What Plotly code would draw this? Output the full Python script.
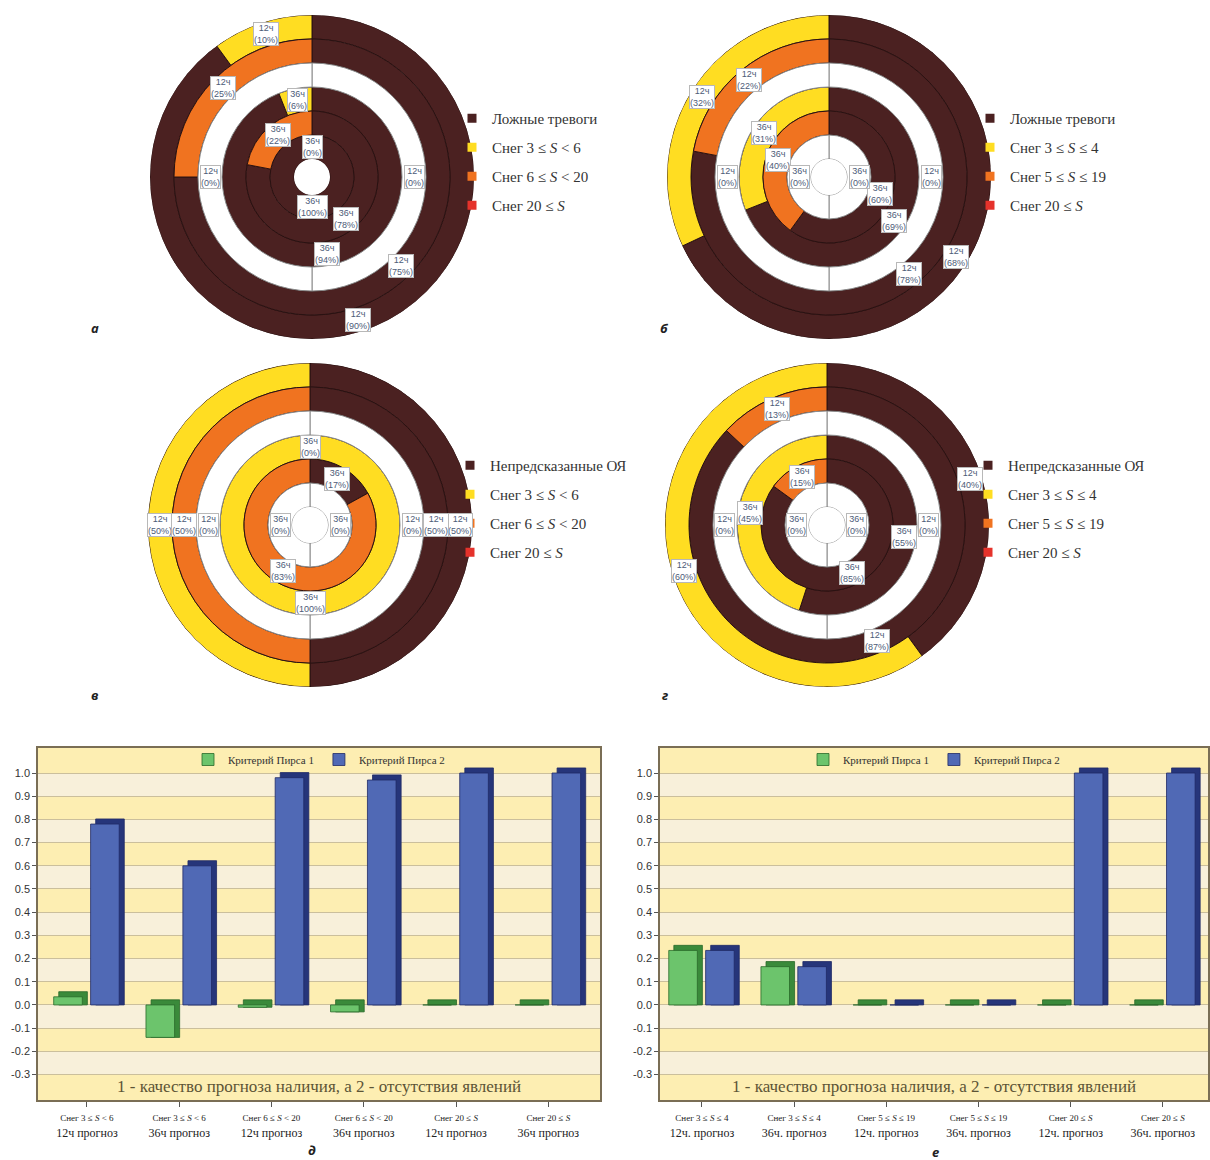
import math
import plotly.graph_objects as go

W, H = 1210, 1160

# ---------------- data ----------------
ring_hours = ["12ч", "12ч", "12ч", "36ч", "36ч", "36ч"]
ring_kinds = ["yellow", "orange", "red", "yellow", "orange", "red"]

# share (%) of the snow category in each ring, outer ring first; None = no data
share_a = [10, 25, None, 6, 22, 0]
share_b = [32, 22, None, 31, 40, None]
share_v = [50, 50, None, 100, 83, None]
share_g = [60, 13, None, 45, 15, None]

legend_a = ["Ложные тревоги", "Снег 3 ≤ <i>S</i> &lt; 6", "Снег 6 ≤ <i>S</i> &lt; 20", "Снег 20 ≤ <i>S</i>"]
legend_b = ["Ложные тревоги", "Снег 3 ≤ <i>S</i> ≤ 4", "Снег 5 ≤ <i>S</i> ≤ 19", "Снег 20 ≤ <i>S</i>"]
legend_v = ["Непредсказанные ОЯ", "Снег 3 ≤ <i>S</i> &lt; 6", "Снег 6 ≤ <i>S</i> &lt; 20", "Снег 20 ≤ <i>S</i>"]
legend_g = ["Непредсказанные ОЯ", "Снег 3 ≤ <i>S</i> ≤ 4", "Снег 5 ≤ <i>S</i> ≤ 19", "Снег 20 ≤ <i>S</i>"]

cats_d_top = ["Снег 3 ≤ <i>S</i> &lt; 6", "Снег 3 ≤ <i>S</i> &lt; 6", "Снег 6 ≤ <i>S</i> &lt; 20",
              "Снег 6 ≤ <i>S</i> &lt; 20", "Снег 20 ≤ <i>S</i>", "Снег 20 ≤ <i>S</i>"]
cats_d_bottom = ["12ч прогноз", "36ч прогноз", "12ч прогноз", "36ч прогноз", "12ч прогноз", "36ч прогноз"]
cats_e_top = ["Снег 3 ≤ <i>S</i> ≤ 4", "Снег 3 ≤ <i>S</i> ≤ 4", "Снег 5 ≤ <i>S</i> ≤ 19",
              "Снег 5 ≤ <i>S</i> ≤ 19", "Снег 20 ≤ <i>S</i>", "Снег 20 ≤ <i>S</i>"]
cats_e_bottom = ["12ч. прогноз", "36ч. прогноз", "12ч. прогноз", "36ч. прогноз", "12ч. прогноз", "36ч. прогноз"]

pierce1_d = [0.035, -0.14, -0.01, -0.03, 0.0, 0.0]
pierce2_d = [0.78, 0.60, 0.98, 0.97, 1.0, 1.0]
pierce1_e = [0.235, 0.165, 0.0, 0.0, 0.0, 0.0]
pierce2_e = [0.235, 0.165, 0.0, 0.0, 1.0, 1.0]

series_names = ["Критерий Пирса 1", "Критерий Пирса 2"]
y_ticks = [1.0, 0.9, 0.8, 0.7, 0.6, 0.5, 0.4, 0.3, 0.2, 0.1, 0.0, -0.1, -0.2, -0.3]
note_text = "1 - качество прогноза наличия, а 2 - отсутствия явлений"

# ---------------- style ----------------
COL = {"dark": "#4b2121", "yellow": "#ffdd22", "orange": "#f07320", "red": "#e5322b", "white": "#ffffff"}
SERIF = "Liberation Serif"
SANS = "Liberation Sans"

fig = go.Figure()
layout = dict(width=W, height=H, margin=dict(l=0, r=0, t=0, b=0), autosize=False,
              paper_bgcolor="white", plot_bgcolor="white", barmode="overlay", showlegend=True)
annotations = []
shapes = []

R = 162.0
HOLE = 18.0
RW = (R - HOLE) / 6.0


def dom_x(a, b):
    return [a / W, b / W]


def dom_y(a, b):
    return [1 - b / H, 1 - a / H]


pies = [
    dict(share=share_a, legend=legend_a, cx=312, cy=177, letter="а", lxy=(95, 328), leg=(452, 102)),
    dict(share=share_b, legend=legend_b, cx=829, cy=177, letter="б", lxy=(665, 328), leg=(970, 102)),
    dict(share=share_v, legend=legend_v, cx=310, cy=525, letter="в", lxy=(95, 695), leg=(450, 449)),
    dict(share=share_g, legend=legend_g, cx=827, cy=525, letter="г", lxy=(665, 695), leg=(968, 449)),
]

for i, p in enumerate(pies):
    sub = "polar" if i == 0 else f"polar{i + 1}"
    ax = i + 3
    cx, cy = p["cx"], p["cy"]
    layout[sub] = dict(
        domain=dict(x=dom_x(cx - R, cx + R), y=dom_y(cy - R, cy + R)),
        hole=HOLE / R, bgcolor="white", barmode="overlay",
        radialaxis=dict(visible=False, range=[0, 6], showgrid=False),
        angularaxis=dict(visible=False, direction="clockwise", rotation=90, showgrid=False),
    )
    layout[f"xaxis{ax}"] = dict(domain=dom_x(cx - R, cx + R), range=[-R, R], visible=False,
                                fixedrange=True, anchor=f"y{ax}")
    layout[f"yaxis{ax}"] = dict(domain=dom_y(cy - R, cy + R), range=[-R, R], visible=False,
                                fixedrange=True, anchor=f"x{ax}")

    segs = {c: dict(theta=[], width=[], base=[]) for c in COL}
    labels = []
    for k, (val, kind, hr) in enumerate(zip(p["share"], ring_kinds, ring_hours)):
        b = 5 - k
        if val is None:
            for th in (90, 270):
                segs["white"]["theta"].append(th)
                segs["white"]["width"].append(180)
                segs["white"]["base"].append(b)
                labels.append((k, th, f"{hr}<br>(0%)"))
        else:
            dark = 100 - val
            a_dark = dark * 3.6
            if dark > 0:
                segs["dark"]["theta"].append(a_dark / 2)
                segs["dark"]["width"].append(a_dark)
                segs["dark"]["base"].append(b)
            if val > 0:
                segs[kind]["theta"].append((a_dark + 360) / 2)
                segs[kind]["width"].append(val * 3.6)
                segs[kind]["base"].append(b)
            labels.append((k, a_dark / 2, f"{hr}<br>({dark}%)"))
            labels.append((k, (a_dark + 360) / 2, f"{hr}<br>({val}%)"))

    for c, s in segs.items():
        if not s["theta"]:
            continue
        fig.add_trace(go.Barpolar(
            r=[1] * len(s["theta"]), base=s["base"], theta=s["theta"], width=s["width"],
            marker=dict(color=COL[c], line=dict(color="#8a8a8a" if c == "white" else "#2a1212",
                                                width=1)),
            subplot=sub, showlegend=False, hoverinfo="skip"))

    for k, th, txt in labels:
        rp = R - (k + 0.5) * RW
        annotations.append(dict(
            xref=f"x{ax}", yref=f"y{ax}", x=rp * math.sin(math.radians(th)),
            y=rp * math.cos(math.radians(th)), text=txt, showarrow=False,
            bgcolor="white", bordercolor="#b8b8b8", borderwidth=1, borderpad=0,
            font=dict(family=SANS, size=9, color="#4d5b78")))

    leg_key = "legend" if i == 0 else f"legend{i + 1}"
    for j, (name, c) in enumerate(zip(p["legend"], ["dark", "yellow", "orange", "red"])):
        fig.add_trace(go.Scatter(
            x=[None], y=[None], xaxis=f"x{ax}", yaxis=f"y{ax}", mode="markers",
            marker=dict(symbol="square", size=9, color=COL[c], line=dict(width=0)),
            name=name, legend=leg_key, legendgroup=f"p{i}_{j}", hoverinfo="skip"))
    layout[leg_key] = dict(x=p["leg"][0] / W, y=1 - p["leg"][1] / H, xanchor="left", yanchor="top",
                           bgcolor="rgba(0,0,0,0)", tracegroupgap=6.5,
                           font=dict(family=SERIF, size=15, color="#333333"))
    annotations.append(dict(xref="paper", yref="paper", x=p["lxy"][0] / W, y=1 - p["lxy"][1] / H,
                            xanchor="center", yanchor="middle",
                            text=f"<b><i>{p['letter']}</i></b>", showarrow=False,
                            font=dict(family="Open Sans", size=13, color="#222222")))

# ---------------- bar charts ----------------
YR = [-0.41, 1.108]
OFF = [-0.36, 0.04]
BW = 0.31
DX = 0.055
DY = 0.022
FACE = ["#6cc46c", "#5069b5"]
SIDE = ["#3a8a3a", "#26357a"]
EDGE = ["#2a6a2a", "#1f2a66"]
BAND = ["#fdeeb2", "#f8f0da"]

bars = [
    dict(vals=[pierce1_d, pierce2_d], top=cats_d_top, bot=cats_d_bottom, xpx=(38, 600),
         xr=[-0.53, 5.56], ax="", letter=("д", 312, 1150), leg="legend5"),
    dict(vals=[pierce1_e, pierce2_e], top=cats_e_top, bot=cats_e_bottom, xpx=(660, 1208),
         xr=[-0.455, 5.49], ax="2", letter=("е", 935, 1152), leg="legend6"),
]

for bc in bars:
    ax = bc["ax"]
    xs = list(range(len(bc["top"])))
    for s in range(2):
        v = bc["vals"][s]
        fig.add_trace(go.Bar(
            x=xs, y=[abs(a) + DY for a in v], base=[min(0, a) for a in v],
            offset=OFF[s] + DX, width=BW, marker=dict(color=SIDE[s], line=dict(color=EDGE[s], width=0.8)),
            xaxis=f"x{ax}", yaxis=f"y{ax}", showlegend=False, hoverinfo="skip"))
    for s in range(2):
        v = bc["vals"][s]
        fig.add_trace(go.Bar(
            x=xs, y=v, offset=OFF[s], width=BW, name=series_names[s],
            marker=dict(color=FACE[s], line=dict(color=EDGE[s], width=0.8)),
            xaxis=f"x{ax}", yaxis=f"y{ax}", legend=bc["leg"], hoverinfo="skip"))

    x0, x1 = bc["xpx"]
    ticktext = [f"<span style='font-size:9px'>{t}</span><br>{b}" for t, b in zip(bc["top"], bc["bot"])]
    layout[f"xaxis{ax}"] = dict(domain=dom_x(x0, x1), range=bc["xr"], anchor=f"y{ax}",
                                tickvals=xs, ticktext=ticktext, ticks="outside", ticklen=5,
                                tickcolor="#555555", showgrid=False, zeroline=False,
                                showline=True, mirror=True, linecolor="#7a6e55", linewidth=1.5,
                                tickfont=dict(family=SERIF, size=12, color="#222222"), fixedrange=True)
    layout[f"yaxis{ax}"] = dict(domain=dom_y(748, 1100), range=YR, anchor=f"x{ax}",
                                tickvals=y_ticks, ticktext=[f"{t:.1f}" for t in y_ticks],
                                ticks="outside", ticklen=4, tickcolor="#555555",
                                showgrid=True, gridcolor="#cbbf9c", gridwidth=1, zeroline=False,
                                showline=True, mirror=True, linecolor="#7a6e55", linewidth=1.5,
                                tickfont=dict(family=SANS, size=11, color="#333333"), fixedrange=True)
    edges = [YR[1]] + y_ticks + [YR[0]]
    for n in range(len(edges) - 1):
        shapes.append(dict(type="rect", xref=f"x{ax} domain", yref=f"y{ax}", x0=0, x1=1,
                           y0=edges[n + 1], y1=edges[n], fillcolor=BAND[n % 2],
                           line=dict(width=0), layer="below"))
    annotations.append(dict(xref=f"x{ax} domain", yref=f"y{ax}", x=0.5, y=-0.353, yanchor="middle",
                            text=note_text, showarrow=False,
                            font=dict(family=SERIF, size=17, color="#5c5436")))
    layout[bc["leg"]] = dict(orientation="h", x=(x0 + x1) / 2 / W, y=1 - 745 / H, xanchor="center",
                             yanchor="top", bgcolor="rgba(0,0,0,0)",
                             font=dict(family=SERIF, size=11, color="#333333"))
    lt, lx, ly = bc["letter"]
    annotations.append(dict(xref="paper", yref="paper", x=lx / W, y=1 - ly / H,
                            xanchor="center", yanchor="middle",
                            text=f"<b><i>{lt}</i></b>", showarrow=False,
                            font=dict(family="Open Sans", size=13, color="#222222")))

layout["annotations"] = annotations
layout["shapes"] = shapes
fig.update_layout(**layout)
fig.write_html("out.html")
